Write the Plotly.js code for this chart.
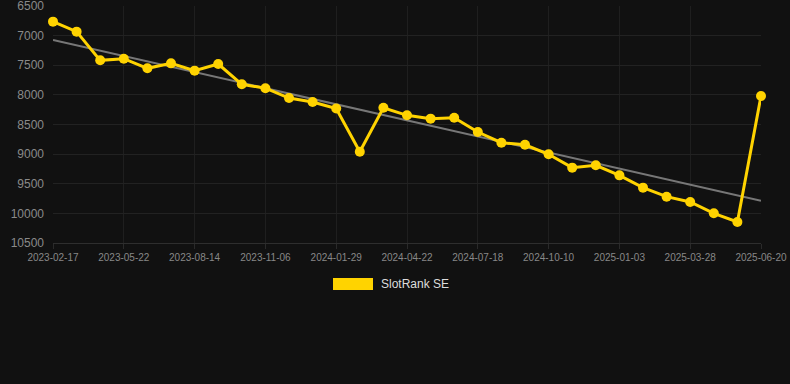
<!DOCTYPE html>
<html>
<head>
<meta charset="utf-8">
<script src="https://cdn.plot.ly/plotly-3.0.1.min.js"></script>
<style>
html,body{margin:0;padding:0;background:#111111;}
#chart{width:790px;height:384px;}
</style>
</head>
<body>
<div id="chart"></div>
<script>
const dates = [
  "2023-02-17","2023-03-20","2023-04-21","2023-05-22","2023-06-19","2023-07-17",
  "2023-08-14","2023-09-11","2023-10-09","2023-11-06","2023-12-04","2024-01-01",
  "2024-01-29","2024-02-26","2024-03-25","2024-04-22","2024-05-20","2024-06-17",
  "2024-07-18","2024-08-15","2024-09-12","2024-10-10","2024-11-07","2024-12-05",
  "2025-01-03","2025-01-31","2025-02-28","2025-03-28","2025-04-25","2025-05-23",
  "2025-06-20"
];
const ranks = [
  6764, 6933, 7417, 7389, 7552, 7468,
  7591, 7479, 7822, 7887, 8053, 8120,
  8230, 8960, 8218, 8345, 8401, 8386,
  8627, 8807, 8842, 9003, 9228, 9189,
  9358, 9566, 9718, 9808, 9999, 10146,
  8019
];
const seriesName = "SlotRank SE";
const yTicks = [6500, 7000, 7500, 8000, 8500, 9000, 9500, 10000, 10500];

// linear regression trend over point index
const n = ranks.length;
const idx = ranks.map((_, i) => i);
const mx = idx.reduce((a, b) => a + b, 0) / n;
const my = ranks.reduce((a, b) => a + b, 0) / n;
let sxy = 0, sxx = 0;
for (let i = 0; i < n; i++) { sxy += (i - mx) * (ranks[i] - my); sxx += (i - mx) * (i - mx); }
const slope = sxy / sxx;
const icpt = my - slope * mx;
const trend = idx.map(i => icpt + slope * i);

const tickDates = dates.filter((_, i) => i % 3 === 0);

const FONT = "Liberation Sans, Arial, Helvetica, sans-serif";

const traces = [
  {
    x: dates, y: trend, type: "scatter", mode: "lines",
    line: {color: "rgba(125,125,125,0.95)", width: 2},
    hoverinfo: "skip", showlegend: false, cliponaxis: false
  },
  {
    x: dates, y: ranks, type: "scatter", mode: "lines+markers", name: seriesName,
    line: {color: "#FFD300", width: 3},
    marker: {color: "#FFD300", size: 10},
    showlegend: false, cliponaxis: false
  }
];

const layout = {
  width: 790, height: 384,
  paper_bgcolor: "#111111", plot_bgcolor: "#111111",
  margin: {l: 53, r: 29, t: 6, b: 141},
  font: {family: FONT, color: "#888888"},
  showlegend: false,
  xaxis: {
    type: "category",
    range: [0, n - 1],
    tickvals: tickDates,
    ticktext: tickDates,
    tickangle: 0,
    tickfont: {size: 10, color: "#888888", family: FONT},
    showgrid: true, gridcolor: "#1f1f1f", gridwidth: 1,
    ticks: "outside", ticklen: 5, tickcolor: "#2a2a2a",
    showline: true, linecolor: "#2e2e2e", linewidth: 1,
    zeroline: false, fixedrange: true, ticklabeloverflow: "allow"
  },
  yaxis: {
    range: [10500, 6500],
    tickvals: yTicks,
    tickformat: "d",
    tickfont: {size: 12, color: "#8a8a8a", family: FONT},
    showgrid: true, gridcolor: "#222222", gridwidth: 1,
    zeroline: false, showline: false,
    ticks: "", ticklabelstandoff: 8, fixedrange: true,
    ticklabeloverflow: "allow"
  },
  shapes: [
    {type: "rect", xref: "paper", yref: "paper",
     x0: (333 - 53) / 708, x1: (373 - 53) / 708,
     y0: (243 - 290) / 237, y1: (243 - 278) / 237,
     fillcolor: "#FFD300", line: {width: 0}}
  ],
  annotations: [
    {xref: "paper", yref: "paper", x: (379 - 53) / 708, y: (243 - 284) / 237,
     xanchor: "left", yanchor: "middle", showarrow: false,
     text: seriesName, font: {size: 12, color: "#dddddd", family: FONT}}
  ]
};

Plotly.newPlot("chart", traces, layout, {displayModeBar: false, staticPlot: true});
</script>
</body>
</html>
